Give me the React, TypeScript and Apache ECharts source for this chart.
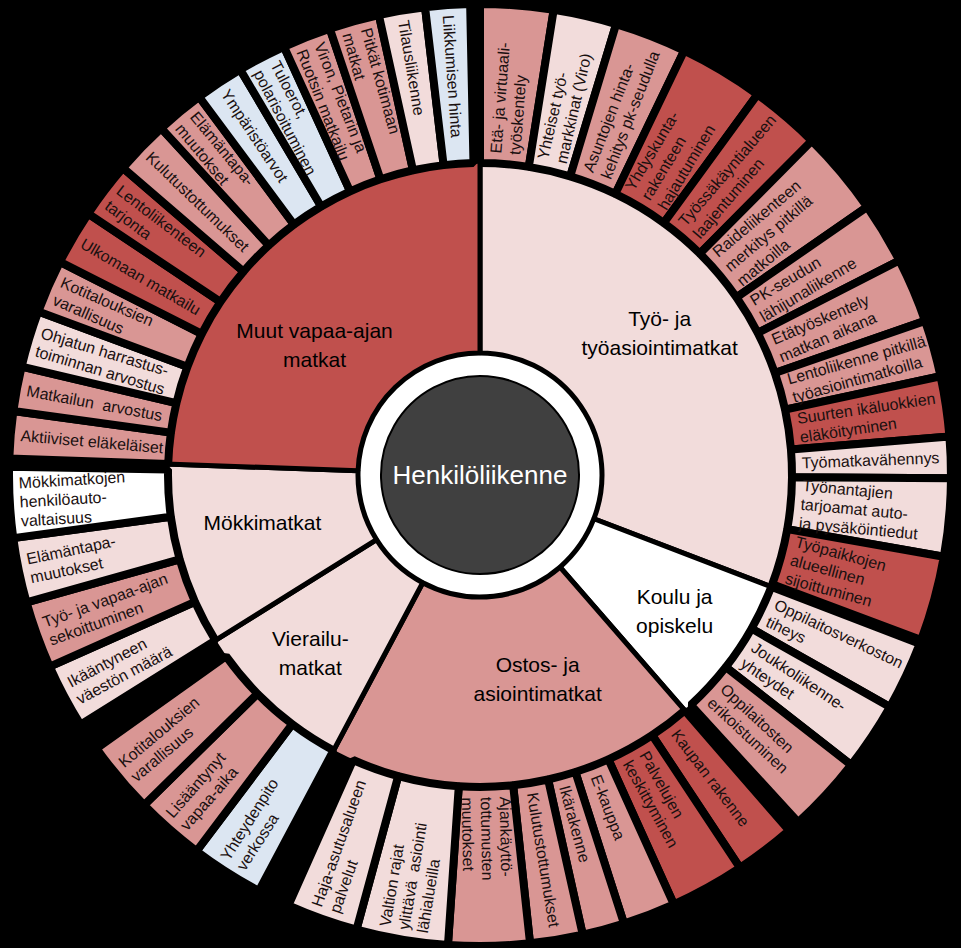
import React, { useEffect, useRef } from 'react';
import * as echarts from 'echarts';

const FONT = '"Liberation Sans", Arial, sans-serif';

const rootName = 'Henkilöliikenne';

// Categories (inner ring), clockwise from 12 o'clock
const categoryNames = [
  'Työ- ja\ntyöasiointimatkat',
  'Koulu ja\nopiskelu',
  'Ostos- ja\nasiointimatkat',
  'Vierailu-\nmatkat',
  'Mökkimatkat',
  'Muut vapaa-ajan\nmatkat',
];
const categoryShares = [111, 28, 69, 30, 34, 88];
const categoryTones = ['light', 'white', 'mid', 'light', 'light', 'red'];

// Leaves (outer ring) per category
const workLeaves = [
  'Etä- ja virtuaali-\ntyöskentely',
  'Yhteiset työ-\nmarkkinat (Viro)',
  'Asuntojen hinta-\nkehitys pk-seudulla',
  'Yhdyskunta-\nrakenteen\nhajautuminen',
  'Työssäkäyntialueen\nlaajentuminen',
  'Raideliikenteen\nmerkitys pitkillä\nmatkoilla',
  'PK-seudun\nlähijunaliikenne',
  'Etätyöskentely\nmatkan aikana',
  'Lentoliikenne pitkillä\ntyöasiointimatkoilla',
  'Suurten ikäluokkien\neläköityminen',
  'Työmatkavähennys',
  'Työnantajien\ntarjoamat auto-\nja pysäköintiedut',
  'Työpaikkojen\nalueellinen\nsijoittuminen',
];
const workShares = [9.0, 7.8, 8.9, 10.4, 8.7, 10.5, 7.6, 8.0, 7.0, 7.4, 5.1, 9.6, 10.5];
const workTones = ['mid', 'light', 'mid', 'red', 'red', 'mid', 'mid', 'mid', 'mid', 'red', 'light', 'light', 'red'];

const schoolLeaves = ['Oppilaitosverkoston\ntiheys', 'Joukkoliikenne-\nyhteydet', 'Oppilaitosten\nerikoistuminen'];
const schoolShares = [8.5, 8.5, 9.5];
const schoolTones = ['light', 'light', 'mid'];

const shoppingLeaves = [
  'Kaupan rakenne',
  'Palvelujen\nkeskittyminen',
  'E-kauppa',
  'Ikärakenne',
  'Kulutustottumukset',
  'Ajankäyttö-\ntottumusten\nmuutokset',
  'Valtion rajat\nylittävä  asiointi\nlähialueilla',
  'Haja-asutusalueen\npalvelut',
];
const shoppingShares = [7.5, 9.2, 6.5, 5.2, 6.5, 10, 11.3, 8.8];
const shoppingTones = ['red', 'red', 'mid', 'mid', 'mid', 'mid', 'light', 'light'];

const visitLeaves = ['Yhteydenpito\nverkossa', 'Lisääntynyt\nvapaa-aika', 'Kotitalouksien\nvarallisuus'];
const visitShares = [9, 8.5, 9];
const visitTones = ['blue', 'mid', 'mid'];

const cottageLeaves = ['Ikääntyneen\nväestön määrä', 'Työ- ja vapaa-ajan\nsekoittuminen', 'Elämäntapa-\nmuutokset', 'Mökkimatkojen\nhenkilöauto-\nvaltaisuus'];
const cottageShares = [8, 8.3, 8, 8.7];
const cottageTones = ['light', 'mid', 'light', 'white'];

const leisureLeaves = [
  'Aktiiviset eläkeläiset',
  'Matkailun  arvostus',
  'Ohjatun harrastus-\ntoiminnan arvostus',
  'Kotitalouksien\nvarallisuus',
  'Ulkomaan matkailu',
  'Lentoliikenteen\ntarjonta',
  'Kulutustottumukset',
  'Elämäntapa-\nmuutokset',
  'Ympäristöarvot',
  'Tuloerot,\npolarisoituminen',
  'Viron, Pietarin ja\nRuotsin matkailu',
  'Pitkät kotimaan\nmatkat',
  'Tilausliikenne',
  'Liikkumisen hinta',
];
const leisureShares = [5.8, 5.5, 7, 6.6, 6.8, 7, 6.7, 6, 6.0, 6, 6, 6.2, 5.7, 5.5];
const leisureTones = ['mid', 'mid', 'light', 'mid', 'red', 'red', 'mid', 'mid', 'blue', 'blue', 'mid', 'mid', 'light', 'blue'];

// Styling (kept apart from data)
const TONE_COLORS: Record<string, string> = {
  white: '#FFFFFF',
  light: '#F2DCDB',
  mid: '#D99694',
  red: '#C0504D',
  blue: '#DCE6F2',
};
// padding [top, right, bottom, left] used to nudge the inner-ring labels
const categoryLabelPadding: number[][] = [
  [0, 0, 38, 0],
  [22, 0, 0, 32],
  [0, 0, 26, 66],
  [38, 42, 0, 0],
  [0, 14, 18, 0],
  [54, 28, 0, 0],
];

const groups = [
  { names: workLeaves, shares: workShares, tones: workTones },
  { names: schoolLeaves, shares: schoolShares, tones: schoolTones },
  { names: shoppingLeaves, shares: shoppingShares, tones: shoppingTones },
  { names: visitLeaves, shares: visitShares, tones: visitTones },
  { names: cottageLeaves, shares: cottageShares, tones: cottageTones },
  { names: leisureLeaves, shares: leisureShares, tones: leisureTones },
];

const CX = 480;
const CY = 475;

export default function App() {
  const ref = useRef<HTMLDivElement>(null);

  useEffect(() => {
    if (!ref.current) return;
    const chart = echarts.init(ref.current, undefined, { renderer: 'svg' });

    const total = categoryShares.reduce((a, b) => a + b, 0);
    let catStart = 0;
    const children = categoryNames.map((name, i) => {
      const g = groups[i];
      let acc = catStart;
      const leaves = g.names.map((n, j) => {
        const mid = ((acc + g.shares[j] / 2) / total) * 360;
        acc += g.shares[j];
        const leftHalf = mid > 180;
        return {
          name: n,
          value: g.shares[j],
          itemStyle: { color: TONE_COLORS[g.tones[j]] },
          label: { align: leftHalf ? 'right' : 'left' },
        };
      });
      catStart += categoryShares[i];
      return {
        name,
        value: categoryShares[i],
        itemStyle: { color: TONE_COLORS[categoryTones[i]] },
        label: { padding: categoryLabelPadding[i] },
        children: leaves,
      };
    });

    const data = [
      {
        name: rootName,
        itemStyle: { color: '#404040' },
        children,
      },
    ];

    chart.setOption({
      animation: false,
      backgroundColor: '#000',
      graphic: [
        {
          type: 'circle',
          z: -10,
          silent: true,
          shape: { cx: CX, cy: CY, r: 122 },
          style: { fill: '#FFFFFF', stroke: '#000', lineWidth: 2 },
        },
      ],
      series: [
        {
          type: 'sunburst',
          center: [CX, CY],
          sort: null,
          nodeClick: false,
          startAngle: 90,
          emphasis: { disabled: true },
          data,
          levels: [
            {},
            {
              radius: [0, 99],
              itemStyle: { borderColor: '#000', borderWidth: 2 },
              label: { rotate: 0, color: '#FFFFFF', fontSize: 26, fontFamily: FONT },
            },
            {
              radius: [122, 314],
              itemStyle: { borderColor: '#000', borderWidth: 5 },
              label: {
                rotate: 0,
                align: 'center',
                color: '#000',
                fontSize: 21,
                lineHeight: 29,
                fontFamily: FONT,
                rich: { c: { fontSize: 21, lineHeight: 29, fontFamily: FONT, color: '#000' } },
              },
            },
            {
              radius: [312, 471],
              itemStyle: { borderColor: '#000', borderWidth: 8 },
              label: {
                rotate: 'radial',
                distance: 10,
                color: '#1a1010',
                fontSize: 16,
                lineHeight: 19,
                fontFamily: FONT,
              },
            },
          ],
        },
      ],
    });

    return () => chart.dispose();
  }, []);

  return (
    <div
      ref={ref}
      style={{ position: 'fixed', left: 0, top: 0, width: 961, height: 948, background: '#000' }}
    />
  );
}
